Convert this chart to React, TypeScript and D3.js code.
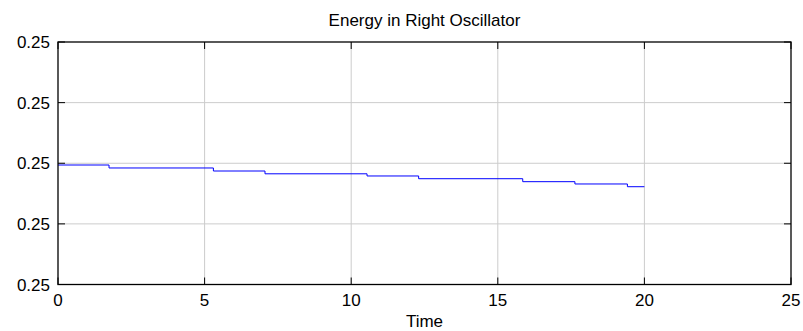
import React from "react";
import * as d3 from "d3";

const stepTimes = [0, 1.74, 5.3, 7.06, 10.54, 12.3, 15.85, 17.63, 19.42, 20];
const energyValues = [
  0.24999971, 0.24999922, 0.24999872, 0.24999826, 0.2499979, 0.24999745,
  0.24999696, 0.24999658, 0.24999613, 0.24999613,
];
const xTicks = [0, 5, 10, 15, 20, 25];
const yTicks = [0.24998, 0.24999, 0.25, 0.25001, 0.25002];
const titleText = "Energy in Right Oscillator";
const xLabel = "Time";

export default function App() {
  const W = 803, H = 331;
  const left = 58, right = 791, top = 42, bottom = 284.5;
  const x = d3.scaleLinear().domain([0, 25]).range([left, right]);
  const y = d3.scaleLinear().domain([0.24998, 0.25002]).range([bottom, top]);
  const pts: [number, number][] = stepTimes.map((t, i) => [t, energyValues[i]]);
  const line = d3
    .line<[number, number]>()
    .x((d) => x(d[0]))
    .y((d) => y(d[1]))
    .curve(d3.curveStepAfter);
  const fmt = d3.format(".2f");
  const font = "Liberation Sans, Arial, sans-serif";
  const fs = 17;
  return (
    <svg
      width={W}
      height={H}
      style={{ position: "absolute", left: 0, top: 0, background: "#fff" }}
      fontFamily={font}
    >
      <rect x={0} y={0} width={W} height={H} fill="#fff" />
      {xTicks.slice(1, -1).map((t) => (
        <line key={"gx" + t} x1={x(t)} x2={x(t)} y1={top} y2={bottom} stroke="#cccccc" strokeWidth={1} />
      ))}
      {yTicks.slice(1, -1).map((t) => (
        <line key={"gy" + t} x1={left} x2={right} y1={y(t)} y2={y(t)} stroke="#cccccc" strokeWidth={1} />
      ))}
      <path d={line(pts) || ""} fill="none" stroke="#0000ff" strokeWidth={1} />
      <rect x={left} y={top} width={right - left} height={bottom - top} fill="none" stroke="#000" strokeWidth={1.3} />
      {xTicks.map((t) => (
        <g key={"xt" + t}>
          <line x1={x(t)} x2={x(t)} y1={bottom} y2={bottom - 7} stroke="#000" />
          <line x1={x(t)} x2={x(t)} y1={top} y2={top + 7} stroke="#000" />
          <text x={x(t)} y={bottom + 21.5} textAnchor="middle" fontSize={fs} fill="#000">
            {t}
          </text>
        </g>
      ))}
      {yTicks.map((t) => (
        <g key={"yt" + t}>
          <line x1={left} x2={left + 7} y1={y(t)} y2={y(t)} stroke="#000" />
          <line x1={right} x2={right - 7} y1={y(t)} y2={y(t)} stroke="#000" />
          <text x={left - 8} y={y(t) + 6} textAnchor="end" fontSize={fs} fill="#000">
            {fmt(t)}
          </text>
        </g>
      ))}
      <text x={(left + right) / 2} y={26} textAnchor="middle" fontSize={fs} fill="#000">
        {titleText}
      </text>
      <text x={(left + right) / 2} y={326.5} textAnchor="middle" fontSize={fs} fill="#000">
        {xLabel}
      </text>
    </svg>
  );
}
